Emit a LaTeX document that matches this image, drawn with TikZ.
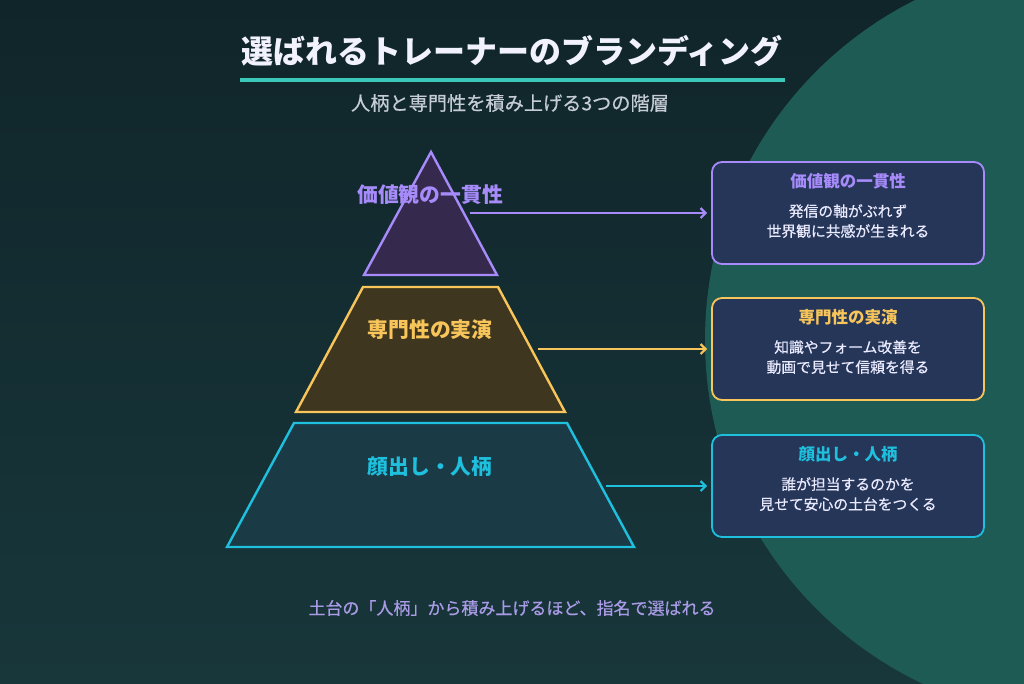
\documentclass[tikz,border=0pt]{standalone}
\usepackage{fontspec}
\setmainfont{Noto Sans CJK JP}
\newfontfamily\medfont[FakeBold=0.5]{Noto Sans CJK JP}
\usepackage{tikz}
\usetikzlibrary{arrows.meta,positioning}
\usepackage{xcolor}

\definecolor{bgtop}{HTML}{10252A}
\definecolor{bgbot}{HTML}{18373B}
\definecolor{blob}{HTML}{1F5B55}
\definecolor{purp}{HTML}{A78BFA}
\definecolor{purpfill}{HTML}{352A4E}
\definecolor{gold}{HTML}{F8C55A}
\definecolor{goldfill}{HTML}{3F3620}
\definecolor{cyanl}{HTML}{1EC0DE}
\definecolor{cyanfill}{HTML}{1A3A46}
\definecolor{boxfill}{HTML}{253659}
\definecolor{rule}{HTML}{3CC8B8}
\definecolor{subgray}{HTML}{C5CCD6}
\definecolor{footpurp}{HTML}{A99BE6}

\begin{document}
\begin{tikzpicture}[
        > = {Straight Barb[length=5pt, width=10pt]}, % arrow head style
        x = 1pt, y = -1pt, % pixel-like coordinates
        auto
    ]

    \tikzstyle{layer}=[line width = 2.4pt, line join = miter]
    \tikzstyle{layer label}=[font = \bfseries\fontsize{20.8}{24}\selectfont]
    \tikzstyle{info}=[
        draw,
        fill = boxfill,
        rounded corners = 10pt,
        line width = 1.8pt,
        minimum width = 272pt,
        minimum height = 102pt
    ]
    \tikzstyle{info title}=[font = \bfseries\fontsize{16.5}{20}\selectfont]
    \tikzstyle{info text}=[text = white!92!blue, align = center,
        font = \medfont\fontsize{14.8}{20}\selectfont]
    \tikzstyle{link}=[->, line width = 2.2pt, shorten > = 4pt]

    % background
    \useasboundingbox (0,0) rectangle (1024,683);
    \clip (0,0) rectangle (1024,683);
    \shade[top color = bgtop, bottom color = bgbot] (0,0) rectangle (1024,683);
    \fill[blob] (1085,340) circle (380);

    % heading
    \node[text = white!95!blue, font = \bfseries\fontsize{32}{36}\selectfont] (head) at (512,51) {選ばれるトレーナーのブランディング};
    \draw[rule, line width = 4pt] (240,80) -- (785,80);
    \node[text = subgray, font = \medfont\fontsize{19.2}{22}\selectfont] (sub) at (510,103) {人柄と専門性を積み上げる3つの階層};

    % pyramid
    \draw[layer, draw = purp, fill = purpfill] (431,152) -- (497,275) -- (364,275) -- cycle;
    \draw[layer, draw = gold, fill = goldfill] (363,287) -- (498,287) -- (565,412) -- (296,412) -- cycle;
    \draw[layer, draw = cyanl, fill = cyanfill] (294,423) -- (567,423) -- (634,547) -- (227,547) -- cycle;

    \node[layer label, text = purp] (top) at (430,195) {価値観の一貫性};
    \node[layer label, text = gold] (mid) at (430,330) {専門性の実演};
    \node[layer label, text = cyanl] (base) at (430,467) {顔出し・人柄};

    \coordinate (topR) at (470,213);
    \coordinate (midR) at (538,349);
    \coordinate (baseR) at (606,486);

    % explanation boxes
    \node[info, draw = purp] (values) at (848,213) {};
    \node[info title, text = purp] (valuesT) at ([yshift=-20pt]values.north) {価値観の一貫性};
    \node[info text] (valuesD) at ([yshift=-60pt]values.north) {発信の軸がぶれず\\世界観に共感が生まれる};

    \node[info, draw = gold] (skill) at (848,349) {};
    \node[info title, text = gold] (skillT) at ([yshift=-20pt]skill.north) {専門性の実演};
    \node[info text] (skillD) at ([yshift=-60pt]skill.north) {知識やフォーム改善を\\動画で見せて信頼を得る};

    \node[info, draw = cyanl] (face) at (848,486) {};
    \node[info title, text = cyanl] (faceT) at ([yshift=-20pt]face.north) {顔出し・人柄};
    \node[info text] (faceD) at ([yshift=-60pt]face.north) {誰が担当するのかを\\見せて安心の土台をつくる};

    \draw[link, purp] (topR) -- (values.west);
    \draw[link, gold] (midR) -- (skill.west);
    \draw[link, cyanl] (baseR) -- (face.west);

    % footer
    \node[text = footpurp, font = \medfont\fontsize{17}{20}\selectfont] (foot) at (512,608) {土台の「人柄」から積み上げるほど、指名で選ばれる};
\end{tikzpicture}
\end{document}
